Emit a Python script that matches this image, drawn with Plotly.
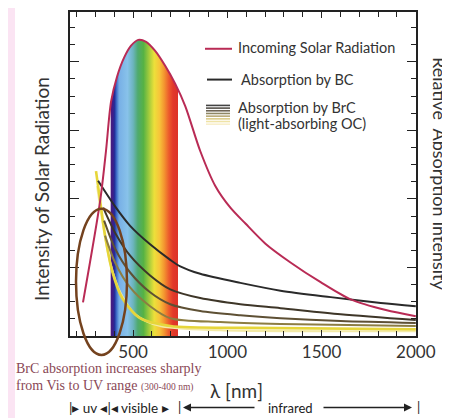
import plotly.graph_objects as go

# ---------------- data ----------------
SOLAR_NM = [234, 325, 356, 383, 415, 452, 489, 527, 569, 617, 670, 723, 777, 856,
            936, 1016, 1096, 1202, 1335, 1495, 1654, 1841, 2000]
SOLAR_I = [0.104, 0.417, 0.571, 0.724, 0.801, 0.859, 0.896, 0.914, 0.908, 0.880,
           0.834, 0.779, 0.709, 0.571, 0.463, 0.396, 0.347, 0.285, 0.227, 0.166,
           0.113, 0.080, 0.061]

BC_NM = [314, 404, 484, 590, 697, 750, 856, 1069, 1282, 1548, 1814, 2000]
BC_I = [0.479, 0.400, 0.340, 0.283, 0.235, 0.215, 0.192, 0.164, 0.140, 0.120, 0.102, 0.092]

BRC1_NM = [341, 404, 484, 590, 697, 856, 1069, 1282, 1601, 2000]
BRC1_I = [0.396, 0.319, 0.248, 0.187, 0.144, 0.117, 0.098, 0.086, 0.067, 0.049]
BRC2_NM = [346, 404, 484, 590, 697, 856, 1069, 1282, 1601, 2000]
BRC2_I = [0.356, 0.270, 0.196, 0.135, 0.098, 0.077, 0.064, 0.055, 0.046, 0.040]
BRC3_NM = [351, 404, 484, 590, 697, 963, 1282, 2000]
BRC3_I = [0.310, 0.227, 0.150, 0.092, 0.055, 0.043, 0.037, 0.031]
BRC4_NM = [303, 325, 351, 388, 442, 537, 697, 1122, 2000]
BRC4_I = [0.509, 0.417, 0.310, 0.202, 0.117, 0.055, 0.031, 0.025, 0.021]
BRC5_NM = [309, 341, 378, 431, 511, 644, 963, 2000]
BRC5_I = [0.463, 0.340, 0.227, 0.135, 0.067, 0.031, 0.018, 0.015]

VISIBLE = [380, 740]
RAINBOW_NM = [380, 394, 402, 412, 426, 470, 500, 525, 555, 585, 612, 640, 665, 690, 712, 740]
RAINBOW_COL = ["#4b1a7a", "#3b1e8c", "#22309a", "#3f6cc8", "#78b0e6", "#88c2ea",
               "#6cb4be", "#4faa6e", "#56b244", "#a5cc3c", "#ece03a", "#f7c43a",
               "#f39530", "#ec5a2c", "#e2392a", "#dc3228"]

X_TICKS = [500, 1000, 1500, 2000]

# ---------------- layout geometry (window pixels) ----------------
OFF = 8                      # default page margin of the html body
WIN_W, WIN_H = 450, 418
W, H = WIN_W - OFF, WIN_H - OFF
AX_L, AX_R, AX_T, AX_B = 70, 416, 10, 336   # plot frame in window pixels
L, T = AX_L - OFF, AX_T - OFF
R, B = W - (AX_R - OFF), H - (AX_B - OFF)
PW, PH = AX_R - AX_L, AX_B - AX_T


def px(x):
    return (x - AX_L) / PW


def py(y):
    return (AX_B - y) / PH


SOLAR_COL = "#b92b55"
BC_COL = "#2a2a2a"
BRC_COLS = ["#3e3628", "#5e5034", "#8c7d42", "#e6d63a", "#f3eaa6"]
AXC = "#222222"
TXT = "#333333"
FONT = "Lato"

# rainbow gradient restricted to the visible band
lo, hi = SOLAR_NM[0], SOLAR_NM[-1]
clear = "rgba(255,255,255,0)"
cs = [[0.0, clear], [(VISIBLE[0] - lo) / (hi - lo) - 1e-4, clear]]
for nm, c in zip(RAINBOW_NM, RAINBOW_COL):
    cs.append([(nm - lo) / (hi - lo), c])
cs.append([(VISIBLE[1] - lo) / (hi - lo) + 1e-4, clear])
cs.append([1.0, clear])

fig = go.Figure()
SM = 0.8
fig.add_trace(go.Scatter(
    x=SOLAR_NM, y=SOLAR_I, mode="lines",
    line=dict(width=0, shape="spline", smoothing=SM),
    fill="tozeroy",
    fillgradient=dict(type="horizontal", colorscale=cs, start=lo, stop=hi),
    hoverinfo="skip"))

brc = [(BRC5_NM, BRC5_I, BRC_COLS[4], 2.2), (BRC4_NM, BRC4_I, BRC_COLS[3], 2.6),
       (BRC3_NM, BRC3_I, BRC_COLS[2], 2), (BRC2_NM, BRC2_I, BRC_COLS[1], 2),
       (BRC1_NM, BRC1_I, BRC_COLS[0], 2)]
for xs, ys, c, w in brc:
    fig.add_trace(go.Scatter(x=xs, y=ys, mode="lines",
                             line=dict(color=c, width=w, shape="spline", smoothing=SM)))

fig.add_trace(go.Scatter(x=BC_NM, y=BC_I, mode="lines",
                         line=dict(color=BC_COL, width=2, shape="spline", smoothing=SM)))
fig.add_trace(go.Scatter(x=SOLAR_NM, y=SOLAR_I, mode="lines",
                         line=dict(color=SOLAR_COL, width=2, shape="spline", smoothing=SM)))

shapes = []
# pink strip at left edge
shapes.append(dict(type="rect", xref="paper", yref="paper", x0=px(OFF - 2), x1=px(15),
                   y0=py(WIN_H + 2), y1=py(OFF - 2), fillcolor="#fbe4f3",
                   line=dict(width=0), layer="below"))
# ellipse marking BrC UV region
shapes.append(dict(type="circle", xref="paper", yref="paper", x0=px(76), x1=px(127),
                   y0=py(355), y1=py(208), line=dict(color="#74421e", width=2.5)))
# legend glyphs
shapes.append(dict(type="line", xref="paper", yref="paper", x0=px(205), x1=px(232),
                   y0=py(47), y1=py(47), line=dict(color=SOLAR_COL, width=2)))
shapes.append(dict(type="line", xref="paper", yref="paper", x0=px(207), x1=px(232),
                   y0=py(78), y1=py(78), line=dict(color=BC_COL, width=2)))
stack = ["#444444", "#55524c", "#706656", "#8f8764", "#b8aa78", "#dccc88",
         "#efe3a6", "#f8efcb"]
for i, c in enumerate(stack):
    yy = 104 + i * 2.7
    shapes.append(dict(type="line", xref="paper", yref="paper", x0=px(206), x1=px(230),
                       y0=py(yy), y1=py(yy), line=dict(color=c, width=1.6)))

ann = []


def text(x, y, s, size=13, anchor="left", color=TXT, family=FONT, angle=0):
    ann.append(dict(x=px(x), y=py(y), xref="paper", yref="paper", text=s,
                    showarrow=False, xanchor=anchor, yanchor="middle", textangle=angle,
                    font=dict(size=size, color=color, family=family)))


text(236, 46, "Incoming Solar Radiation", size=14.5)
text(239, 78, "Absorption by BC", size=14.5)
text(236, 106, "Absorption by BrC", size=14.5)
text(236, 122, "(light-absorbing OC)", size=14.5)

text(42, 188, "Intensity of Solar Radiation", size=19, anchor="center", angle=-90)
text(440, 173, "Relative  Absorption Intensity", size=18, anchor="center", angle=90)
text(236, 391, "λ [nm]", size=19, anchor="center")

BR = "#8a4856"
text(14, 369, "BrC absorption increases sharply", size=14, color=BR,
     family="Liberation Serif")
text(14, 386, "from Vis to UV range <span style='font-size:9.5px'>(300-400 nm)</span>",
     size=14, color=BR, family="Liberation Serif")

text(67, 408, "|▸ uv ◂|◂ visible ▸", size=13.5, color="#222")
text(179, 407, "|", size=13, anchor="center", color="#222")
text(290, 408, "infrared", size=13, anchor="center", color="#222")
text(418, 407, "|", size=13, anchor="center", color="#222")
for tip, tail in [(183, 256), (412, 322)]:
    ann.append(dict(x=px(tip), y=py(408), xref="paper", yref="paper", text="",
                    showarrow=True, ax=tail - tip, ay=0, arrowhead=2, arrowsize=1,
                    arrowwidth=1.6, arrowcolor="#222"))

axis_common = dict(showline=True, linecolor=AXC, linewidth=1.5, mirror="allticks",
                   ticks="inside", tickcolor=AXC, tickwidth=1.3, showgrid=False,
                   zeroline=False)

fig.update_layout(
    width=W, height=H, margin=dict(l=L, r=R, t=T, b=B),
    paper_bgcolor="white", plot_bgcolor="white", showlegend=False,
    shapes=shapes, annotations=ann,
    xaxis=dict(range=[165, 2001], tickmode="array", tickvals=X_TICKS,
               ticktext=[str(v) for v in X_TICKS], ticklen=6,
               tickfont=dict(size=17, color=TXT, family=FONT),
               minor=dict(dtick=100, tick0=0, ticks="inside", ticklen=5,
                          tickcolor=AXC, tickwidth=1.3),
               **axis_common),
    yaxis=dict(range=[0, 1], showticklabels=False, tick0=0, dtick=0.2117, ticklen=9,
               minor=dict(dtick=0.0529, tick0=0, ticks="inside", ticklen=5,
                          tickcolor=AXC, tickwidth=1.3),
               **axis_common),
)

fig.write_html("out.html")
